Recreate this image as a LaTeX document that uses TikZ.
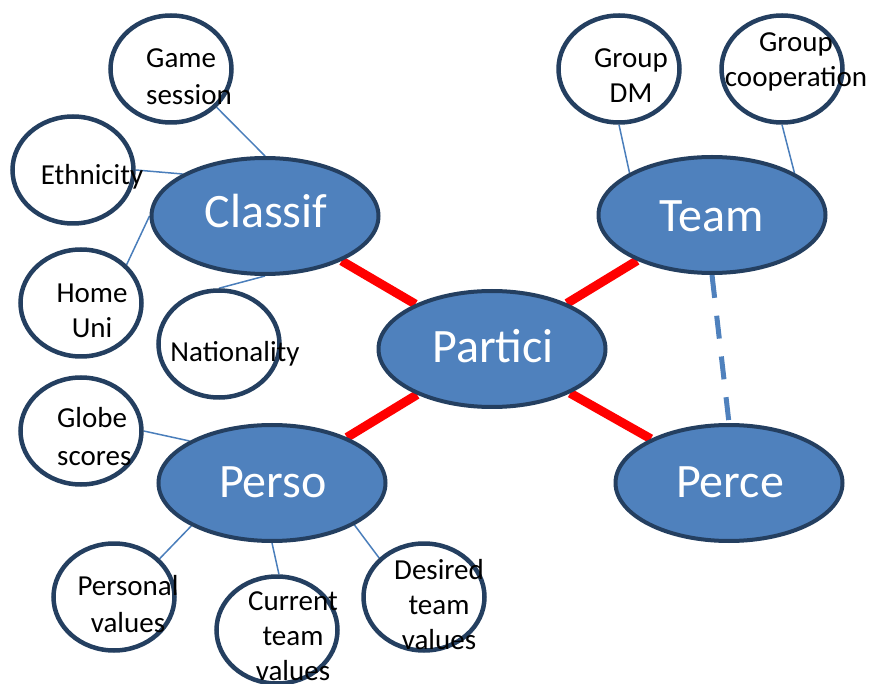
\documentclass[tikz,border=0pt]{standalone}
\usepackage{fontspec}
\setmainfont{Carlito}
\usetikzlibrary{shapes.geometric,backgrounds}
\definecolor{bfill}{HTML}{4F81BD}
\definecolor{bdraw}{HTML}{243F60}
\definecolor{thin}{HTML}{4A7EBB}
\definecolor{redl}{HTML}{FF0000}
\tikzset{
  bigell/.style={ellipse, draw=bdraw, fill=bfill, line width=4pt, minimum width=227pt, minimum height=116pt, inner sep=0pt},
  smallell/.style={ellipse, draw=bdraw, fill=white, line width=4.5pt, minimum width=121pt, minimum height=107pt, inner sep=0pt},
  bigtxt/.style={text=white, font=\fontsize{48}{58}\selectfont, inner sep=0pt, anchor=base},
  smtxt/.style={text=black, font=\fontsize{29}{36}\selectfont, inner sep=0pt, anchor=base},
  smtxtl/.style={smtxt, anchor=base west},
  thinline/.style={draw=thin, line width=1.5pt},
  redline/.style={draw=redl, line width=9pt},
  dashline/.style={draw=bfill, line width=5pt, dash pattern=on 23pt off 18pt}
}
\begin{document}
\begin{tikzpicture}[x=1pt,y=-1pt]
\useasboundingbox (0,0) rectangle (873,684);
% big ellipses
\node[bigell] (cl) at (265,216) {};
\node[bigell] (pa) at (492,349) {};
\node[bigell] (tm) at (712,215) {};
\node[bigell] (pc) at (729,483) {};
\node[bigell] (ps) at (272,483) {};
% small ellipses
\node[smallell] (gs) at (171,69) {};
\node[smallell] (et) at (73,170) {};
\node[smallell] (hu) at (81,303) {};
\node[smallell] (na) at (219,344) {};
\node[smallell] (gd) at (619,69) {};
\node[smallell] (gc) at (782,69) {};
\node[smallell] (gl) at (81,431) {};
\node[smallell] (pv) at (114,597) {};
\node[smallell] (ct) at (277,630) {};
\node[smallell] (dt) at (424,597) {};
% connectors
\begin{scope}[on background layer]
\draw[redline] (cl) -- (pa);
\draw[redline] (tm) -- (pa);
\draw[redline] (ps) -- (pa);
\draw[redline] (pc) -- (pa);
\draw[dashline] (tm.south) -- (pc.north);
\draw[thinline] (gs.-40) -- (cl.90);
\draw[thinline] (et.0) -- (cl.153);
\draw[thinline] (hu.40) -- (cl.180);
\draw[thinline] (na.90) -- (cl.270);
\draw[thinline] (gd.270) -- (tm.153);
\draw[thinline] (gc.270) -- (tm.27);
\draw[thinline] (gl.0) -- (ps.153);
\draw[thinline] (pv.40) -- (ps.208);
\draw[thinline] (ct.88) -- (ps.270);
\draw[thinline] (dt.139) -- (ps.-27);
\end{scope}
% big labels
\node[bigtxt] (clT) at (266,228) {Classif};
\node[bigtxt] (paT) at (493,363) {Partici};
\node[bigtxt] (tmT) at (712,232) {Team};
\node[bigtxt] (pcT) at (730,497) {Perce};
\node[bigtxt] (psT) at (273,497) {Perso};
% small labels
\node[smtxtl] (gs1) at (146,68) {Game};
\node[smtxtl] (gs2) at (146,105) {session};
\node[smtxt] (et1) at (92,185) {Ethnicity};
\node[smtxt] (hu1) at (92,303) {Home};
\node[smtxt] (hu2) at (92,338) {Uni};
\node[smtxt] (na1) at (235,362) {Nationality};
\node[smtxt] (gd1) at (631,68) {Group};
\node[smtxt] (gd2) at (631,103) {DM};
\node[smtxt] (gc1) at (796,52) {Group};
\node[smtxt] (gc2) at (796,87) {cooperation};
\node[smtxtl] (gl1) at (57,428) {Globe};
\node[smtxtl] (gl2) at (57,465) {scores};
\node[smtxt] (pv1) at (128,595) {Personal};
\node[smtxt] (pv2) at (128,632) {values};
\node[smtxt] (ct1) at (293,610) {Current};
\node[smtxt] (ct2) at (293,645) {team};
\node[smtxt] (ct3) at (293,680) {values};
\node[smtxt] (dt1) at (439,579) {Desired};
\node[smtxt] (dt2) at (439,614) {team};
\node[smtxt] (dt3) at (439,649) {values};
\end{tikzpicture}
\end{document}
